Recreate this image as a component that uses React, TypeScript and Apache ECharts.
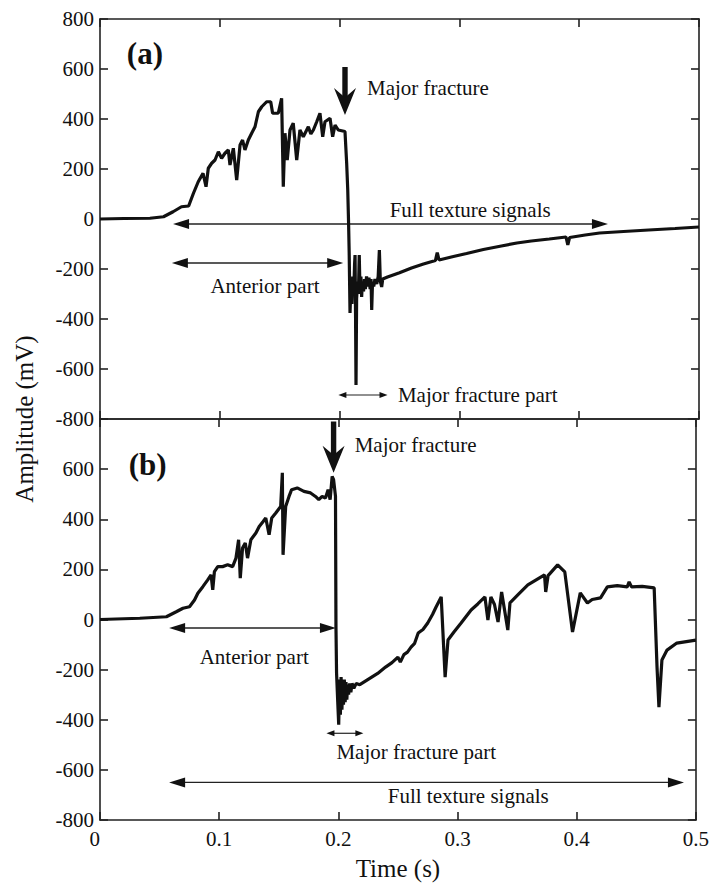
import React, { useEffect, useRef } from "react";
import * as echarts from "echarts";

// ---- Panel (a) signal ----
const timeA = [
  0, 0.02, 0.0417, 0.053, 0.061, 0.068, 0.074, 0.078, 0.082, 0.086, 0.0885, 0.0904, 0.0932, 0.096,
  0.0988, 0.1015, 0.1043, 0.1071, 0.1085, 0.1113, 0.1141, 0.1169, 0.119, 0.121, 0.1238, 0.1266,
  0.1294, 0.1322, 0.135, 0.1391, 0.1425, 0.1441, 0.1488, 0.1516, 0.153, 0.1544, 0.1563, 0.1586,
  0.1613, 0.1642, 0.1669, 0.1697, 0.1739, 0.176, 0.1781, 0.1809, 0.1836, 0.1859, 0.1878, 0.192,
  0.1942, 0.1962, 0.1989, 0.2045, 0.2059, 0.2068, 0.2075, 0.208, 0.2087, 0.2095, 0.2103, 0.211,
  0.2118, 0.2125, 0.2129, 0.2133, 0.2137, 0.2142, 0.215, 0.2157, 0.2164, 0.217, 0.2178, 0.2184,
  0.219, 0.22, 0.2208, 0.2215, 0.2225, 0.2235, 0.2245, 0.2255, 0.2262, 0.2268, 0.2275, 0.2285,
  0.2295, 0.231, 0.2322, 0.2332, 0.234, 0.2351, 0.236, 0.24, 0.25, 0.26, 0.27, 0.28, 0.2815,
  0.283, 0.295, 0.306, 0.32, 0.335, 0.348, 0.36, 0.375, 0.389, 0.3905, 0.392, 0.405, 0.417,
  0.437, 0.458, 0.48, 0.5,
];
const ampA = [
  0, 2, 3, 9, 29, 49, 52, 103, 149, 183, 129, 203, 223, 236,
  269, 243, 263, 276, 216, 283, 156, 296, 316, 276, 316, 343,
  369, 429, 449, 469, 469, 423, 423, 483, 129, 343, 236, 356,
  383, 236, 356, 329, 369, 340, 356, 389, 423, 329, 389, 403,
  329, 376, 356, 350, 223, 116, -16, -136, -376, -260, -340, -230,
  -300, -180, -144, -376, -664, -320, -250, -300, -144, -280, -230, -312,
  -250, -290, -240, -280, -230, -270, -235, -280, -240, -364, -250, -270,
  -240, -260, -230, -124, -250, -272, -240, -232, -215, -196, -180, -166, -134,
  -164, -150, -138, -122, -108, -96, -88, -80, -72, -104, -74, -64, -56,
  -50, -44, -38, -32,
];

// ---- Panel (b) signal ----
const timeB = [
  0, 0.0334, 0.0557, 0.064, 0.0696, 0.0751, 0.0793, 0.0821, 0.0863, 0.0904, 0.0932, 0.0946, 0.096,
  0.0988, 0.1029, 0.1071, 0.1113, 0.1141, 0.1163, 0.1177, 0.1196, 0.1219, 0.1238, 0.1266, 0.1308,
  0.1336, 0.1369, 0.1391, 0.1419, 0.1441, 0.1475, 0.1516, 0.153, 0.1536, 0.1558, 0.1586, 0.1608,
  0.1655, 0.1711, 0.1767, 0.1808, 0.1836, 0.1864, 0.1892, 0.1914, 0.1931, 0.1948, 0.196, 0.1976,
  0.198, 0.1985, 0.1995, 0.2003, 0.201, 0.2017, 0.2023, 0.203, 0.2037, 0.2043, 0.205, 0.2057,
  0.2064, 0.2071, 0.2078, 0.2086, 0.2095, 0.2105, 0.2115, 0.213, 0.215, 0.218, 0.222, 0.228,
  0.233, 0.2396, 0.245, 0.25, 0.252, 0.255, 0.258, 0.261, 0.264, 0.267, 0.271, 0.275, 0.279,
  0.282, 0.2863, 0.2896, 0.292, 0.297, 0.303, 0.3114, 0.317, 0.323, 0.3255, 0.328, 0.331, 0.334,
  0.337, 0.3422, 0.344, 0.351, 0.359, 0.366, 0.373, 0.374, 0.376, 0.384, 0.39, 0.3965, 0.403,
  0.409, 0.413, 0.42, 0.4257, 0.434, 0.4424, 0.444, 0.446, 0.455, 0.465, 0.4674, 0.469, 0.4715,
  0.4758, 0.484, 0.492, 0.5,
];
const ampB = [
  0, 5, 11, 31, 45, 51, 78, 105, 131, 158, 178, 118, 191,
  211, 211, 218, 211, 245, 318, 165, 285, 305, 245, 318, 345,
  371, 391, 405, 338, 405, 425, 451, 585, 258, 451, 491, 518,
  525, 511, 505, 491, 478, 491, 485, 518, 478, 571, 558, 491,
  -30, -214, -330, -420, -240, -380, -230, -360, -250, -340, -240, -330,
  -250, -320, -260, -300, -255, -290, -255, -275, -255, -260, -248, -230,
  -215, -190, -172, -150, -170, -140, -130, -110, -95, -54, -40, -14, 20,
  50, 90, -230, -82, -50, -14, 38, 62, 90, -2, 90, 60, -10,
  110, -42, 66, 100, 138, 158, 178, 110, 175, 218, 190, -50, 106,
  66, 80, 86, 130, 135, 130, 150, 130, 132, 126, -190, -350, -162,
  -122, -94, -88, -82,
];

// ---- Axis ticks ----
const yMin = -800;
const yMax = 800;
const yStep = 200;
const xMin = 0;
const xMax = 0.5;
const xStep = 0.1;

// ---- Range annotations (data units) ----
const rangeText = [
  "Full texture signals",
  "Anterior part",
  "Major fracture part",
  "Anterior part",
  "Major fracture part",
  "Full texture signals",
];
const rangePanel = [0, 0, 0, 1, 1, 1];
const rangeStart = [0.061, 0.06, 0.199, 0.058, 0.19, 0.058];
const rangeEnd = [0.424, 0.203, 0.24, 0.198, 0.221, 0.49];
const rangeLevel = [-20, -176, -704, -34, -454, -650];
const rangeTextT = [0.309, 0.1377, 0.2487, 0.1294, 0.2654, 0.309];
const rangeTextV = [36, -268, -704, -150, -530, -706];

// ---- Major fracture arrows (data units) ----
const fracText = ["Major fracture", "Major fracture"];
const fracT = [0.2045, 0.196];
const fracTop = [608, 790];
const fracTip = [416, 586];
const fracTextT = [0.2229, 0.2137];
const fracTextV = [524, 698];

const panelNames = ["(a)", "(b)"];
const panelNameT = [0.0375, 0.04];
const panelNameV = [664, 618];

const FONT = "Liberation Serif";
const INK = "#111";

export default function App() {
  const ref = useRef<HTMLDivElement>(null);

  useEffect(() => {
    if (!ref.current) return;
    const chart = echarts.init(ref.current, null, { renderer: "svg" });
    const dataA = timeA.map((t, i) => [t, ampA[i]]);
    const dataB = timeB.map((t, i) => [t, ampB[i]]);

    const lineStyle = { color: "#222", width: 1.6 };
    const mkX = (grid: number, pos: string, labels: boolean) => ({
      gridIndex: grid,
      type: "value",
      min: xMin,
      max: xMax,
      interval: xStep,
      position: pos,
      axisLine: { show: true, onZero: false, lineStyle },
      axisTick: { show: true, inside: true, length: 8, lineStyle },
      splitLine: { show: false },
      axisLabel: labels
        ? {
            show: true,
            fontFamily: FONT,
            fontSize: 21,
            color: INK,
            margin: 8,
            alignMinLabel: "right",
          }
        : { show: false },
    });
    const mkY = (grid: number, pos: string, labels: boolean, hideMax: boolean) => ({
      gridIndex: grid,
      type: "value",
      min: yMin,
      max: yMax,
      interval: yStep,
      position: pos,
      axisLine: { show: true, onZero: false, lineStyle },
      axisTick: { show: true, inside: true, length: 8, lineStyle },
      splitLine: { show: false },
      axisLabel: labels
        ? {
            show: true,
            fontFamily: FONT,
            fontSize: 21,
            color: INK,
            margin: 6,
            formatter: (v: number) => (hideMax && v === yMax ? "" : String(v)),
          }
        : { show: false },
    });

    const xB = mkX(1, "bottom", true) as any;
    xB.name = "Time (s)";
    xB.nameLocation = "middle";
    xB.nameGap = 36;
    xB.nameTextStyle = { fontFamily: FONT, fontSize: 25, color: INK };

    chart.setOption({
      animation: false,
      backgroundColor: "#fff",
      grid: [
        { left: 100, top: 19, width: 599, height: 400 },
        { left: 100, top: 419, width: 599, height: 401 },
      ],
      xAxis: [mkX(0, "bottom", false), mkX(0, "top", false), xB, mkX(1, "top", false)],
      yAxis: [
        mkY(0, "left", true, false),
        mkY(0, "right", false, false),
        mkY(1, "left", true, true),
        mkY(1, "right", false, false),
      ],
      series: [
        {
          type: "line",
          xAxisIndex: 0,
          yAxisIndex: 0,
          data: dataA,
          showSymbol: false,
          silent: true,
          lineStyle: { color: INK, width: 3.2 },
        },
        {
          type: "line",
          xAxisIndex: 2,
          yAxisIndex: 2,
          data: dataB,
          showSymbol: false,
          silent: true,
          lineStyle: { color: INK, width: 3.2 },
        },
      ],
    });

    const px = (panel: number, t: number, v: number) =>
      chart.convertToPixel({ seriesIndex: panel }, [t, v]) as number[];
    const g: any[] = [];
    const textEl = (text: string, x: number, y: number, align: string, size: number, weight?: string) => {
      const style: any = {
        text,
        x,
        y,
        align,
        verticalAlign: "middle",
        fontFamily: FONT,
        fontSize: size,
        fill: INK,
      };
      if (weight) style.fontWeight = weight;
      return { type: "text", silent: true, style };
    };

    rangeText.forEach((label, i) => {
      const p = rangePanel[i];
      const a = px(p, rangeStart[i], rangeLevel[i]);
      const b = px(p, rangeEnd[i], rangeLevel[i]);
      const small = label === "Major fracture part";
      const L = small ? 8 : 16;
      const H = small ? 3 : 5;
      const y = a[1];
      g.push({
        type: "line",
        silent: true,
        shape: { x1: a[0] + L * 0.6, y1: y, x2: b[0] - L * 0.6, y2: y },
        style: { stroke: "#222", lineWidth: small ? 1.2 : 1.3 },
      });
      g.push({
        type: "polygon",
        silent: true,
        shape: { points: [[a[0], y], [a[0] + L, y - H], [a[0] + L, y + H]] },
        style: { fill: INK },
      });
      g.push({
        type: "polygon",
        silent: true,
        shape: { points: [[b[0], y], [b[0] - L, y - H], [b[0] - L, y + H]] },
        style: { fill: INK },
      });
      const tp = px(p, rangeTextT[i], rangeTextV[i]);
      const align = p === 0 && small ? "left" : "center";
      g.push(textEl(label, tp[0], tp[1], align, 21));
    });

    fracText.forEach((label, i) => {
      const top = px(i, fracT[i], fracTop[i]);
      const tip = px(i, fracT[i], fracTip[i]);
      const x = tip[0];
      const W = 22;
      const Hh = 27;
      g.push({
        type: "rect",
        silent: true,
        shape: { x: x - 2.7, y: top[1], width: 5.4, height: tip[1] - Hh * 0.6 - top[1] },
        style: { fill: INK },
      });
      g.push({
        type: "polygon",
        silent: true,
        shape: {
          points: [
            [x, tip[1]],
            [x - W / 2, tip[1] - Hh],
            [x, tip[1] - Hh * 0.65],
            [x + W / 2, tip[1] - Hh],
          ],
        },
        style: { fill: INK },
      });
      const tp = px(i, fracTextT[i], fracTextV[i]);
      g.push(textEl(label, tp[0], tp[1], "left", 21));
    });

    panelNames.forEach((name, i) => {
      const p = px(i, panelNameT[i], panelNameV[i]);
      g.push(textEl(name, p[0], p[1], "center", 31, "bold"));
    });

    g.push({
      type: "text",
      silent: true,
      x: 24,
      y: 419,
      rotation: Math.PI / 2,
      style: {
        text: "Amplitude (mV)",
        x: 0,
        y: 0,
        align: "center",
        verticalAlign: "middle",
        fontFamily: FONT,
        fontSize: 25,
        fill: INK,
      },
    });

    chart.setOption({ graphic: g });
    return () => chart.dispose();
  }, []);

  return (
    <div
      ref={ref}
      style={{ position: "fixed", left: 0, top: 0, width: 712, height: 885, background: "#fff" }}
    />
  );
}
